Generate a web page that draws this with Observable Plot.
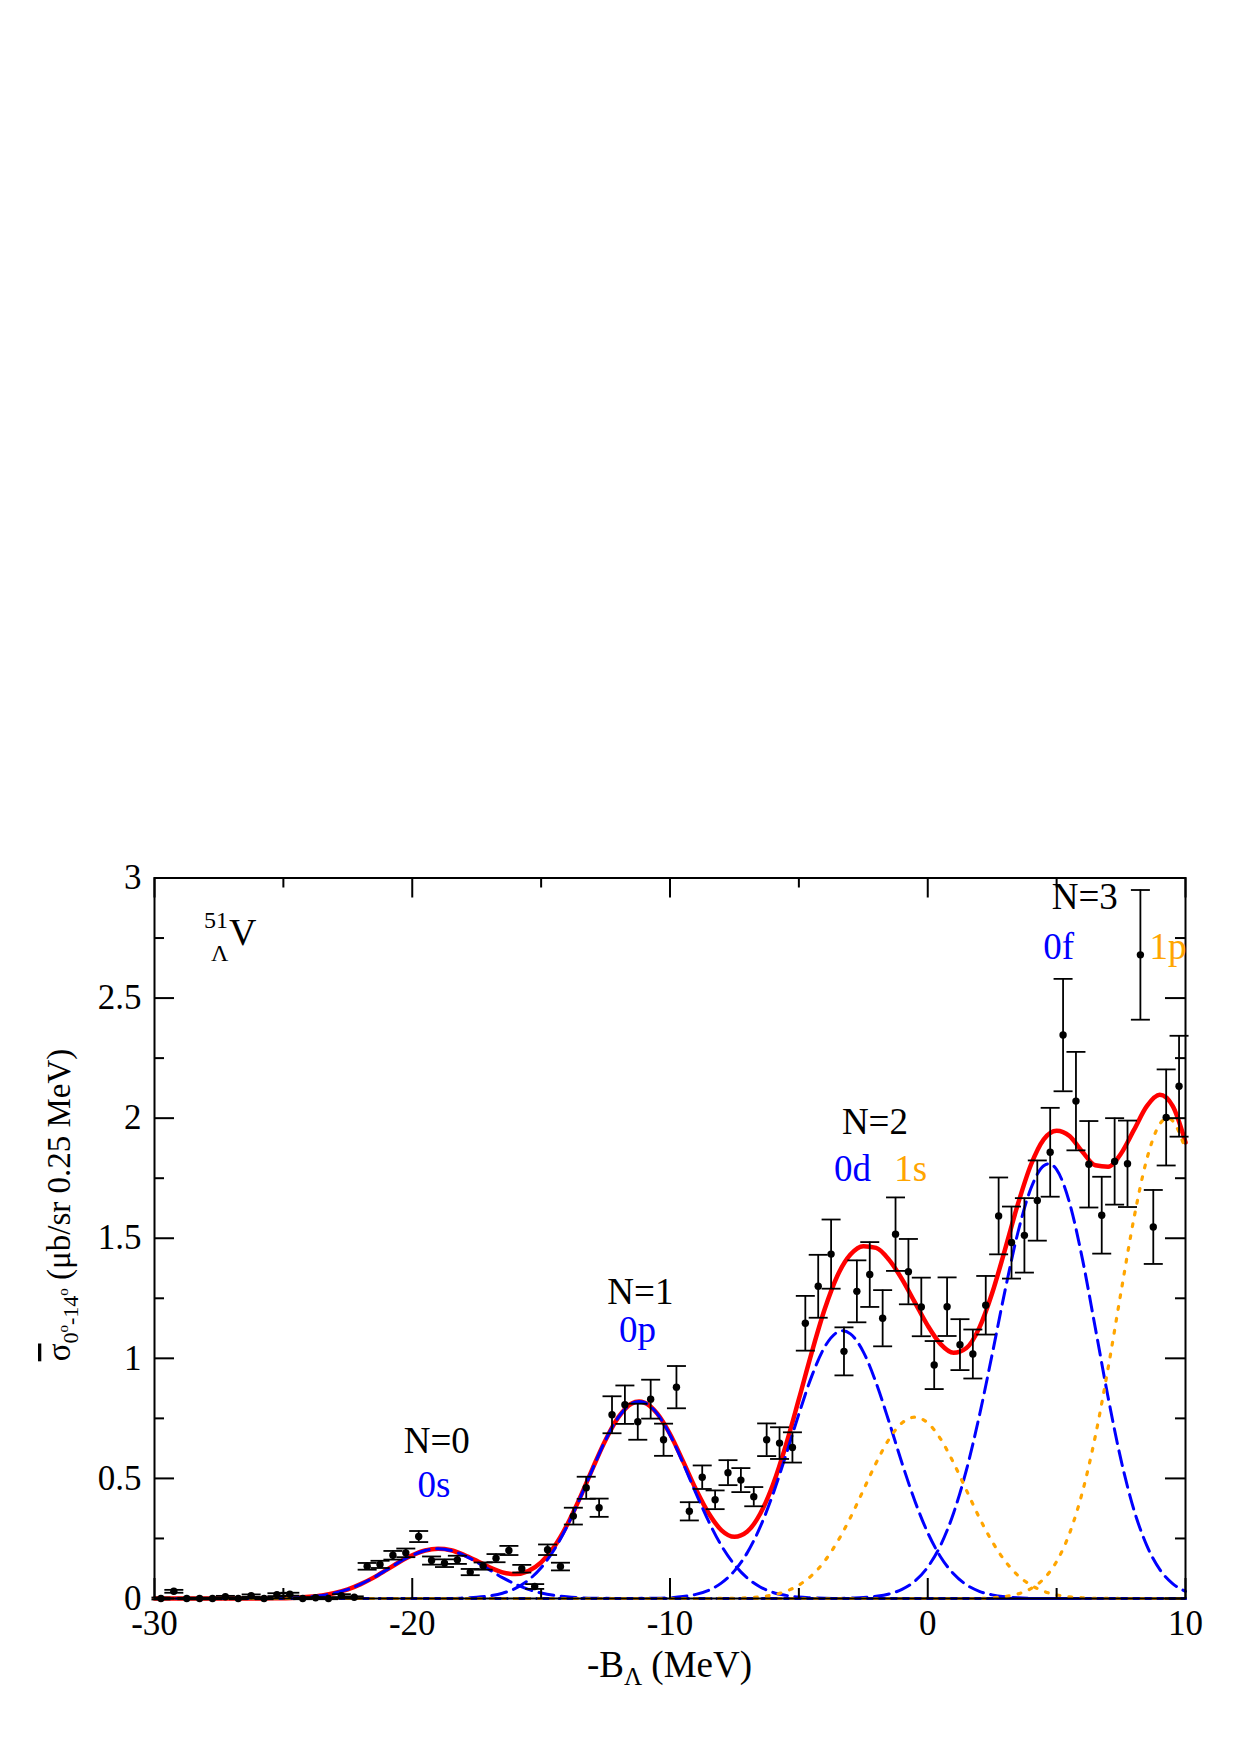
<!DOCTYPE html>
<html>
<head>
<meta charset="utf-8">
<script src="https://cdn.jsdelivr.net/npm/d3@7"></script>
<script src="https://cdn.jsdelivr.net/npm/@observablehq/plot@0.6"></script>
<style>
  html, body { margin: 0; padding: 0; background: #fff; }
  svg { display: block; }
</style>
</head>
<body>
<div id="chart"></div>
<script>
// ---------- data ----------
const binCenters = [
  -29.75,-29.25,-28.75,-28.25,-27.75,-27.25,-26.75,-26.25,-25.75,-25.25,
  -24.75,-24.25,-23.75,-23.25,-22.75,-22.25,-21.75,-21.25,-20.75,-20.25,
  -19.75,-19.25,-18.75,-18.25,-17.75,-17.25,-16.75,-16.25,-15.75,-15.25,
  -14.75,-14.25,-13.75,-13.25,-12.75,-12.25,-11.75,-11.25,-10.75,-10.25,
  -9.75,-9.25,-8.75,-8.25,-7.75,-7.25,-6.75,-6.25,-5.75,-5.25,
  -4.75,-4.25,-3.75,-3.25,-2.75,-2.25,-1.75,-1.25,-0.75,-0.25,
  0.25,0.75,1.25,1.75,2.25,2.75,3.25,3.75,4.25,4.75,
  5.25,5.75,6.25,6.75,7.25,7.75,8.25,8.75,9.25,9.75
];
const crossSection = [
  0, 0.03, 0, 0, 0, 0.007, 0, 0.012, 0, 0.016,
  0.018, 0, 0.003, 0, 0.012, 0.005, 0.134, 0.142, 0.18, 0.19,
  0.258, 0.158, 0.147, 0.161, 0.11, 0.135, 0.168, 0.2, 0.124, 0.05,
  0.203, 0.133, 0.343, 0.461, 0.378, 0.765, 0.807, 0.736, 0.83, 0.661,
  0.88, 0.363, 0.505, 0.411, 0.524, 0.493, 0.424, 0.661, 0.647, 0.629,
  1.146, 1.30, 1.434, 1.029, 1.279, 1.349, 1.167, 1.517, 1.361, 1.214,
  0.972, 1.215, 1.057, 1.018, 1.221, 1.593, 1.482, 1.512, 1.657, 1.858,
  2.346, 2.071, 1.808, 1.596, 1.82, 1.81, 2.68, 1.547, 2.003, 2.133
];
const crossSectionErr = [
  0.004, 0.006, 0.003, 0.003, 0.003, 0.004, 0.003, 0.005, 0.003, 0.006,
  0.006, 0.003, 0.003, 0.003, 0.006, 0.004, 0.014, 0.015, 0.018, 0.018,
  0.023, 0.017, 0.016, 0.017, 0.013, 0.015, 0.017, 0.019, 0.016, 0.01,
  0.022, 0.016, 0.035, 0.046, 0.038, 0.077, 0.08, 0.075, 0.081, 0.067,
  0.088, 0.038, 0.049, 0.039, 0.052, 0.05, 0.04, 0.068, 0.066, 0.063,
  0.114, 0.131, 0.144, 0.1, 0.129, 0.135, 0.117, 0.153, 0.136, 0.122,
  0.1, 0.122, 0.106, 0.102, 0.122, 0.16, 0.15, 0.155, 0.167, 0.185,
  0.234, 0.205, 0.18, 0.16, 0.18, 0.18, 0.27, 0.154, 0.2, 0.21
];

// total fit (red)
const totalFit = [[-30,0],[-26.5,0],[-26,0],[-25.5,0.001],[-25,0.001],[-24.5,0.003],[-24,0.007],[-23.5,0.013],[-23,0.023],[-22.5,0.038],[-22,0.060],[-21.5,0.087],[-21,0.119],[-20.5,0.152],[-20,0.180],[-19.5,0.200],[-19,0.207],[-18.5,0.201],[-18,0.182],[-17.5,0.157],[-17,0.130],[-16.5,0.109],[-16,0.102],[-15.5,0.114],[-15,0.150],[-14.5,0.214],[-14,0.305],[-13.5,0.418],[-13,0.542],[-12.5,0.660],[-12,0.755],[-11.5,0.811],[-11.2,0.820],[-11,0.816],[-10.5,0.771],[-10,0.685],[-9.5,0.573],[-9,0.456],[-8.5,0.355],[-8,0.284],[-7.5,0.257],[-7,0.279],[-6.5,0.353],[-6,0.476],[-5.5,0.640],[-5,0.830],[-4.5,1.025],[-4,1.204],[-3.5,1.345],[-3,1.432],[-2.5,1.467],[-2,1.460],[-1.5,1.410],[-1,1.330],[-0.5,1.233],[0,1.136],[0.5,1.059],[1,1.023],[1.5,1.043],[2,1.127],[2.5,1.272],[3,1.454],[3.5,1.643],[4,1.805],[4.5,1.912],[5,1.948],[5.5,1.926],[6,1.860],[6.5,1.804],[7,1.798],[7.5,1.853],[8,1.951],[8.5,2.050],[9,2.097],[9.5,2.051],[10,1.899]];

// N=0..3 harmonic-oscillator shells (blue dashed)
const shell0s = [[-30,0],[-26,0],[-25.5,0.001],[-25,0.001],[-24.5,0.003],[-24,0.007],[-23.5,0.013],[-23,0.023],[-22.5,0.038],[-22,0.060],[-21.5,0.087],[-21,0.119],[-20.5,0.152],[-20,0.180],[-19.5,0.200],[-19,0.207],[-18.5,0.200],[-18,0.180],[-17.5,0.152],[-17,0.119],[-16.5,0.087],[-16,0.060],[-15.5,0.038],[-15,0.023],[-14.5,0.013],[-14,0.007],[-13.5,0.003],[-13,0.001],[-12.5,0.001],[-12,0],[10,0]];
const shell0p = [[-30,0],[-18.5,0],[-18,0.002],[-17.5,0.005],[-17,0.011],[-16.5,0.022],[-16,0.042],[-15.5,0.076],[-15,0.128],[-14.5,0.202],[-14,0.299],[-13.5,0.415],[-13,0.540],[-12.5,0.660],[-12,0.755],[-11.5,0.811],[-11.2,0.820],[-11,0.816],[-10.5,0.770],[-10,0.681],[-9.5,0.565],[-9,0.440],[-8.5,0.321],[-8,0.219],[-7.5,0.141],[-7,0.085],[-6.5,0.048],[-6,0.025],[-5.5,0.013],[-5,0.006],[-4.5,0.003],[-4,0.001],[-3.5,0],[10,0]];
const shell0d = [[-30,0],[-11.5,0],[-11,0.001],[-10.5,0.001],[-10,0.003],[-9.5,0.008],[-9,0.017],[-8.5,0.034],[-8,0.065],[-7.5,0.115],[-7,0.191],[-6.5,0.298],[-6,0.436],[-5.5,0.598],[-5,0.768],[-4.5,0.926],[-4,1.047],[-3.5,1.109],[-3.3,1.115],[-3,1.102],[-2.5,1.027],[-2,0.897],[-1.5,0.735],[-1,0.564],[-0.5,0.406],[0,0.274],[0.5,0.173],[1,0.103],[1.5,0.057],[2,0.030],[2.5,0.015],[3,0.007],[3.5,0.003],[4,0.001],[4.5,0],[10,0]];
const shell0f = [[-30,0],[-3.5,0],[-3,0.002],[-2.5,0.004],[-2,0.009],[-1.5,0.019],[-1,0.038],[-0.5,0.072],[0,0.131],[0.5,0.222],[1,0.355],[1.5,0.535],[2,0.760],[2.5,1.017],[3,1.283],[3.5,1.525],[4,1.707],[4.5,1.802],[4.7,1.810],[5,1.786],[5.5,1.648],[6,1.414],[6.5,1.127],[7,0.836],[7.5,0.576],[8,0.369],[8.5,0.220],[9,0.121],[9.5,0.062],[10,0.030]];
// 1s, 1p (orange dotted)
const shell1s = [[-30,0],[-8.5,0],[-8,0.001],[-7.5,0.001],[-7,0.003],[-6.5,0.007],[-6,0.015],[-5.5,0.030],[-5,0.056],[-4.5,0.096],[-4,0.156],[-3.5,0.237],[-3,0.337],[-2.5,0.451],[-2,0.565],[-1.5,0.664],[-1,0.731],[-0.5,0.755],[0,0.731],[0.5,0.664],[1,0.565],[1.5,0.451],[2,0.337],[2.5,0.237],[3,0.156],[3.5,0.096],[4,0.056],[4.5,0.030],[5,0.015],[5.5,0.007],[6,0.003],[6.5,0.001],[7,0.001],[7.5,0],[10,0]];
const shell1p = [[-30,0],[2,0],[2.5,0.003],[3,0.008],[3.5,0.019],[4,0.041],[4.5,0.082],[5,0.154],[5.5,0.271],[6,0.443],[6.5,0.675],[7,0.961],[7.5,1.277],[8,1.583],[8.5,1.830],[9,1.975],[9.3,2.000],[9.5,1.989],[10,1.869]];

// ticks
const xMajorTicks = [-30, -20, -10, 0, 10];
const xMinorTicks = [-25, -15, -5, 5];
const yMajorTicks = [0, 0.5, 1, 1.5, 2, 2.5, 3];
const yMinorTicks = [0.25, 0.75, 1.25, 1.75, 2.25, 2.75];

// annotations (text, data position)
const shellLabels = [
  {text: "N=0", x: -19.03, y: 0.603, color: "black", anchor: "middle"},
  {text: "0s",  x: -19.14, y: 0.422, color: "#0000ff", anchor: "middle"},
  {text: "N=1", x: -11.13, y: 1.225, color: "black", anchor: "middle"},
  {text: "0p",  x: -11.24, y: 1.068, color: "#0000ff", anchor: "middle"},
  {text: "N=2", x: -2.03,  y: 1.933, color: "black", anchor: "middle"},
  {text: "0d",  x: -3.62,  y: 1.735, color: "#0000ff", anchor: "start"},
  {text: "1s",  x: -1.28,  y: 1.735, color: "#ffa500", anchor: "start"},
  {text: "N=3", x: 6.11,   y: 2.867, color: "black", anchor: "middle"},
  {text: "0f",  x: 4.50,   y: 2.66,  color: "#0000ff", anchor: "start"},
  {text: "1p",  x: 8.62,   y: 2.66,  color: "#ffa500", anchor: "start"}
];
const nucleusLabel = {x: -27.09, y: 2.719};

// ---------- build ----------
const W = 1240, H = 1755, mL = 154, mR = 55, mT = 877.5, mB = 157;
const innerW = W - mL - mR, innerH = H - mT - mB;
const majorLen = 20, minorLen = 10;
const serif = "'Liberation Serif','Times New Roman',serif";

const points = binCenters.map((x, i) => ({x, y: crossSection[i], e: crossSectionErr[i]}));
const rows = arr => arr.map(([x, y]) => ({x, y}));
const capSymbol = {draw(ctx, size) { const r = Math.sqrt(size / Math.PI); ctx.moveTo(-r, 0); ctx.lineTo(r, 0); }};

const blue = "#0000ff", orange = "#ffa500", red = "#ff0000";
const dashed = {stroke: blue, strokeWidth: 3, strokeDasharray: "15 7.5", curve: "monotone-x"};
const dotted = {stroke: orange, strokeWidth: 3.2, strokeDasharray: "2.8 9.2", curve: "monotone-x"};

const plot = Plot.plot({
  width: W, height: H,
  marginLeft: mL, marginRight: mR, marginTop: mT, marginBottom: mB,
  x: {domain: [-30, 10], label: null},
  y: {domain: [0, 3], label: null},
  style: {fontFamily: serif, fontSize: "35px", background: "white", color: "black", overflow: "visible"},
  marks: [
    Plot.line(rows(totalFit), {x: "x", y: "y", stroke: red, strokeWidth: 4.5, curve: "monotone-x"}),
    Plot.line(rows(shell0s), {x: "x", y: "y", ...dashed}),
    Plot.line(rows(shell0p), {x: "x", y: "y", ...dashed}),
    Plot.line(rows(shell0d), {x: "x", y: "y", ...dashed}),
    Plot.line(rows(shell0f), {x: "x", y: "y", ...dashed}),
    Plot.line(rows(shell1s), {x: "x", y: "y", ...dotted}),
    Plot.line(rows(shell1p), {x: "x", y: "y", ...dotted}),
    Plot.ruleX(points, {x: "x", y1: d => d.y - d.e, y2: d => d.y + d.e, stroke: "black", strokeWidth: 1.8}),
    Plot.dot(points, {x: "x", y: d => d.y + d.e, symbol: capSymbol, r: 9.5, stroke: "black", strokeWidth: 1.8, fill: "none"}),
    Plot.dot(points, {x: "x", y: d => d.y - d.e, symbol: capSymbol, r: 9.5, stroke: "black", strokeWidth: 1.8, fill: "none"}),
    Plot.dot(points, {x: "x", y: "y", r: 3.7, fill: "black", stroke: "none"}),
    Plot.frame({stroke: "black", strokeWidth: 2}),
    // inward ticks on all four sides
    Plot.tickX(xMajorTicks, {x: d => d, insetTop: innerH - majorLen, stroke: "black", strokeWidth: 2}),
    Plot.tickX(xMajorTicks, {x: d => d, insetBottom: innerH - majorLen, stroke: "black", strokeWidth: 2}),
    Plot.tickX(xMinorTicks, {x: d => d, insetTop: innerH - minorLen, stroke: "black", strokeWidth: 2}),
    Plot.tickX(xMinorTicks, {x: d => d, insetBottom: innerH - minorLen, stroke: "black", strokeWidth: 2}),
    Plot.tickY(yMajorTicks, {y: d => d, insetRight: innerW - majorLen, stroke: "black", strokeWidth: 2}),
    Plot.tickY(yMajorTicks, {y: d => d, insetLeft: innerW - majorLen, stroke: "black", strokeWidth: 2}),
    Plot.tickY(yMinorTicks, {y: d => d, insetRight: innerW - minorLen, stroke: "black", strokeWidth: 2}),
    Plot.tickY(yMinorTicks, {y: d => d, insetLeft: innerW - minorLen, stroke: "black", strokeWidth: 2}),
    Plot.axisX(xMajorTicks, {tickSize: 0, tickPadding: 12, tickFormat: d => String(d), label: null, fontSize: 35}),
    Plot.axisY(yMajorTicks, {tickSize: 0, tickPadding: 13, tickFormat: d => String(d), label: null, fontSize: 35})
  ]
});

document.getElementById("chart").appendChild(plot);

const sx = plot.scale("x"), sy = plot.scale("y");
const svg = d3.select(plot);
const g = svg.append("g").attr("font-family", serif).attr("text-anchor", "start");

// shell labels
g.selectAll("text.shell").data(shellLabels).join("text")
  .attr("class", "shell")
  .attr("x", d => sx.apply(d.x)).attr("y", d => sy.apply(d.y))
  .attr("text-anchor", d => d.anchor)
  .attr("fill", d => d.color)
  .attr("font-size", 37)
  .text(d => d.text);

// hypernucleus label  51_Λ V
const nx = sx.apply(nucleusLabel.x), ny = sy.apply(nucleusLabel.y);
g.append("text").attr("x", nx).attr("y", ny).attr("text-anchor", "start").attr("font-size", 38).text("V");
g.append("text").attr("x", nx - 25).attr("y", ny - 17).attr("text-anchor", "start").attr("font-size", 24).text("51");
g.append("text").attr("x", nx - 18).attr("y", ny + 16).attr("text-anchor", "start").attr("font-size", 24).text("Λ");

// x axis title:  -B_Λ (MeV)
const xt = g.append("text")
  .attr("x", (mL + W - mR) / 2).attr("y", 1677)
  .attr("text-anchor", "middle").attr("font-size", 37);
xt.append("tspan").text("-B");
xt.append("tspan").attr("font-size", 25).attr("dy", 8).text("Λ");
xt.append("tspan").attr("dy", -8).text(" (MeV)");

// y axis title:  σ̄_{0°-14°} (μb/sr 0.25 MeV)
const yt = g.append("text")
  .attr("transform", "translate(70, 1205) rotate(-90)")
  .attr("text-anchor", "middle").attr("font-size", 33);
yt.append("tspan").style("text-decoration", "overline").text("σ");
yt.append("tspan").attr("font-size", 22).attr("dy", 8).text("0");
yt.append("tspan").attr("font-size", 15).attr("dy", -10).text("o");
yt.append("tspan").attr("font-size", 22).attr("dy", 10).text("-14");
yt.append("tspan").attr("font-size", 15).attr("dy", -10).text("o");
yt.append("tspan").attr("dy", 2).text(" (μb/sr 0.25 MeV)");
</script>
</body>
</html>
